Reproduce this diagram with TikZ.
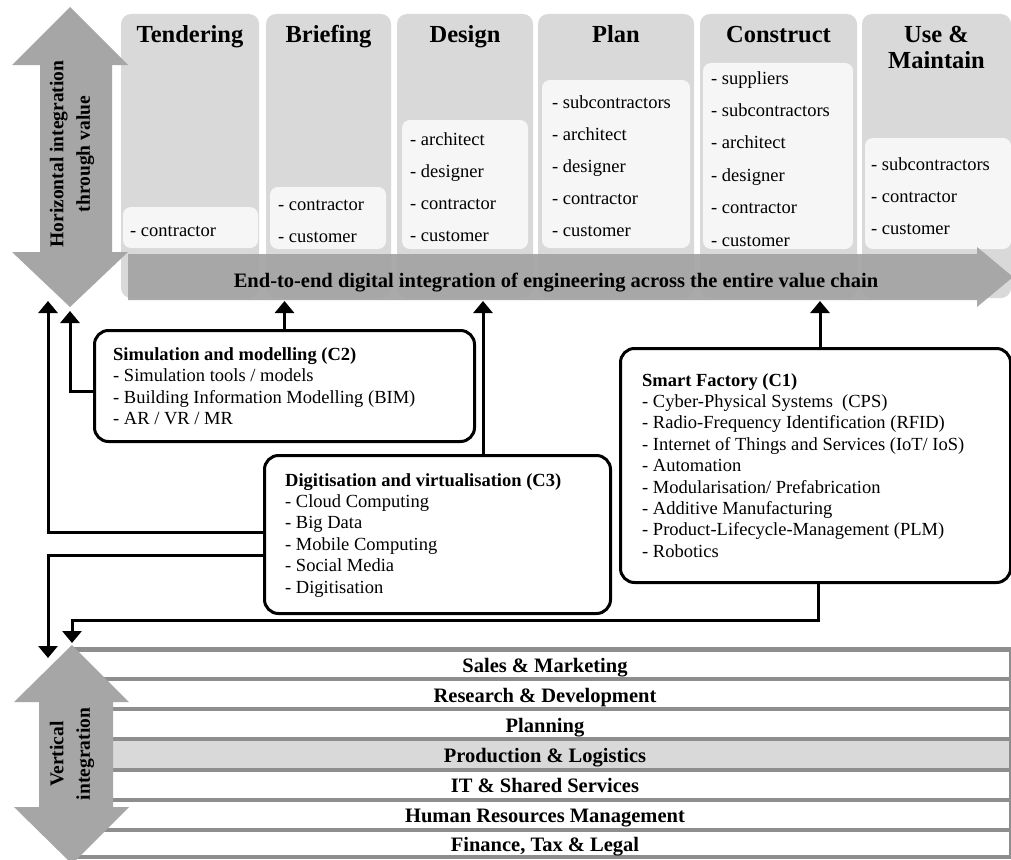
\documentclass[tikz,border=0pt]{standalone}
\usepackage{fontspec}
\setmainfont{Liberation Serif}
\usetikzlibrary{arrows.meta}
\definecolor{colgray}{HTML}{D9D9D9}
\definecolor{innerw}{HTML}{F6F6F6}
\definecolor{arrgray}{HTML}{A6A6A6}
\definecolor{bigarr}{HTML}{A3A3A3}
\definecolor{linegray}{HTML}{8E8E8E}
\begin{document}
\begin{tikzpicture}[x=1pt,y=-1pt,
  colbox/.style={fill=colgray, rounded corners=10pt},
  inbox/.style={fill=innerw, rounded corners=8pt},
  headtxt/.style={font=\fontsize{24.5}{27}\selectfont\bfseries, align=center, anchor=base, inner sep=0pt},
  item/.style={font=\fontsize{18.5}{20}\selectfont, anchor=base west, inner sep=0pt},
  btitle/.style={font=\fontsize{18.5}{20}\selectfont\bfseries, anchor=base west, inner sep=0pt},
  bandtxt/.style={font=\fontsize{20.5}{22}\selectfont\bfseries, anchor=base, inner sep=0pt},
  vtxt/.style={font=\fontsize{19.5}{26.5}\selectfont\bfseries, align=center, rotate=90, inner sep=0pt},
  cbox/.style={draw=black, line width=3pt, rounded corners=14pt, fill=white, anchor=north west, inner sep=0pt},
  conn/.style={draw=black, line width=3pt, -{Triangle[width=19pt,length=12pt]}},
  bandline/.style={draw=linegray, line width=3.5pt},
]
\useasboundingbox (0,0) rectangle (1011,859);
\clip (0,0) rectangle (1011,859);
\fill[white] (0,0) rectangle (1011,859);

% ---------- value chain columns ----------
\fill[colbox] (121,14) rectangle (259,298);
\fill[colbox] (266,14) rectangle (391,298);
\fill[colbox] (397,14) rectangle (533,298);
\fill[colbox] (538,14) rectangle (694,298);
\fill[colbox] (700,14) rectangle (857,298);
\fill[colbox] (862,14) rectangle (1011,298);

\fill[inbox] (123,207) rectangle (258,248);
\fill[inbox] (270,187) rectangle (386,249);
\fill[inbox] (402,120) rectangle (528,249);
\fill[inbox] (542,80) rectangle (690,248);
\fill[inbox] (703,63) rectangle (853,249);
\fill[inbox] (865,138) rectangle (1011,249);

\node[headtxt] (hTend) at (190,42) {Tendering};
\node[headtxt] (hBrief) at (328.5,42) {Briefing};
\node[headtxt] (hDes) at (465,42) {Design};
\node[headtxt] (hPlan) at (616,42) {Plan};
\node[headtxt] (hCons) at (778.5,42) {Construct};
\node[headtxt] (hUse1) at (936.5,42) {Use \&};
\node[headtxt] (hUse2) at (936.5,69) {Maintain};

\node[item] (t1) at (130,236) {- contractor};
\foreach \t [count=\i from 0] in {contractor,customer}
  \node[item] (b\i) at (278,210+\i*32) {- \t};
\foreach \t [count=\i from 0] in {architect,designer,contractor,customer}
  \node[item] (d\i) at (410,145+\i*32) {- \t};
\foreach \t [count=\i from 0] in {subcontractors,architect,designer,contractor,customer}
  \node[item] (p\i) at (552,108+\i*32.2) {- \t};
\foreach \t [count=\i from 0] in {suppliers,subcontractors,architect,designer,contractor,customer}
  \node[item] (k\i) at (711,84+\i*32.4) {- \t};
\foreach \t [count=\i from 0] in {subcontractors,contractor,customer}
  \node[item] (u\i) at (871,170+\i*32) {- \t};

% ---------- big horizontal arrow ----------
\fill[bigarr, opacity=0.92] (128,254) -- (977,254) -- (977,247) -- (1013,277) -- (977,307) -- (977,300) -- (128,300) -- cycle;
\node[bandtxt] (e2e) at (556,287) {End-to-end digital integration of engineering across the entire value chain};

% ---------- left double arrow (horizontal integration) ----------
\fill[arrgray] (70,7) -- (128,65) -- (112,65) -- (112,252) -- (128,252) -- (70,307) -- (12,252) -- (40,252) -- (40,65) -- (12,65) -- cycle;
\node[vtxt] (hint) at (72,154) {Horizontal integration\\through value};

% ---------- functional bands ----------
\fill[colgray] (72,739) rectangle (1011,770);
\foreach \y in {679,709,739,770,800,830,857}
  \draw[bandline] (72,\y) -- (1011,\y);
\draw[bandline, line width=5pt] (72,649) -- (1011,649);
\draw[bandline, line width=2.5pt] (1010,649) -- (1010,859);

\node[bandtxt] (r1) at (545,672) {Sales \& Marketing};
\node[bandtxt] (r2) at (545,702) {Research \& Development};
\node[bandtxt] (r3) at (545,732) {Planning};
\node[bandtxt] (r4) at (545,762) {Production \& Logistics};
\node[bandtxt] (r5) at (545,792) {IT \& Shared Services};
\node[bandtxt] (r6) at (545,822) {Human Resources Management};
\node[bandtxt] (r7) at (545,851) {Finance, Tax \& Legal};

% ---------- left double arrow (vertical integration) ----------
\fill[arrgray] (72,645) -- (129,702) -- (113,702) -- (113,807) -- (129,807) -- (72,864) -- (14,807) -- (39,807) -- (39,702) -- (14,702) -- cycle;
\node[vtxt] (vint) at (72,754) {Vertical\\integration};

% ---------- technology boxes ----------
\node[cbox, minimum width=380pt, minimum height=111pt] (c2) at (93,329) {};
\node[btitle] (c2t) at (113,360) {Simulation and modelling (C2)};
\foreach \t [count=\i from 1] in {Simulation tools / models,Building Information Modelling (BIM),AR / VR / MR}
  \node[item] (c2l\i) at (113,360+\i*21.5) {- \t};

\node[cbox, minimum width=346pt, minimum height=158pt] (c3) at (263,454) {};
\node[btitle] (c3t) at (285,486) {Digitisation and virtualisation (C3)};
\foreach \t [count=\i from 1] in {Cloud Computing,Big Data,Mobile Computing,Social Media,Digitisation}
  \node[item] (c3l\i) at (285,486+\i*21.45) {- \t};

\node[cbox, minimum width=390pt, minimum height=234pt] (c1) at (619,347) {};
\node[btitle] (c1t) at (642,386) {Smart Factory (C1)};
\foreach \t [count=\i from 1] in {Cyber-Physical Systems\ \ (CPS),Radio-Frequency Identification (RFID),Internet of Things and Services (IoT/ IoS),Automation,Modularisation/ Prefabrication,Additive Manufacturing,Product-Lifecycle-Management (PLM),Robotics}
  \node[item] (c1l\i) at (642,386+\i*21.4) {- \t};

% ---------- connector end points ----------
\coordinate (arrB) at (0,301);
\coordinate (hbTip) at (70,311);
\coordinate (vtUp) at (48,301);
\coordinate (vtDown) at (48,658);
\coordinate (vbTip) at (72,643);
\coordinate (x483) at (483,0);
\coordinate (x820) at (820,0);
\coordinate (x818) at (818,620);
\coordinate (y391) at (0,391);
\coordinate (y532) at (0,532);
\coordinate (y555) at (0,555);

% ---------- connectors ----------
\draw[conn] (c2.north) -- (c2.north |- arrB);
\draw[conn] (c2.west |- y391) -| (hbTip);
\draw[conn] (c3.west |- y532) -| (vtUp);
\draw[conn] (c3.west |- y555) -| (vtDown);
\draw[conn] (c3.north -| x483) -- (x483 |- arrB);
\draw[conn] (c1.north -| x820) -- (x820 |- arrB);
\draw[conn] (c1.south -| x818) -- (x818) -| (vbTip);
\end{tikzpicture}
\end{document}
